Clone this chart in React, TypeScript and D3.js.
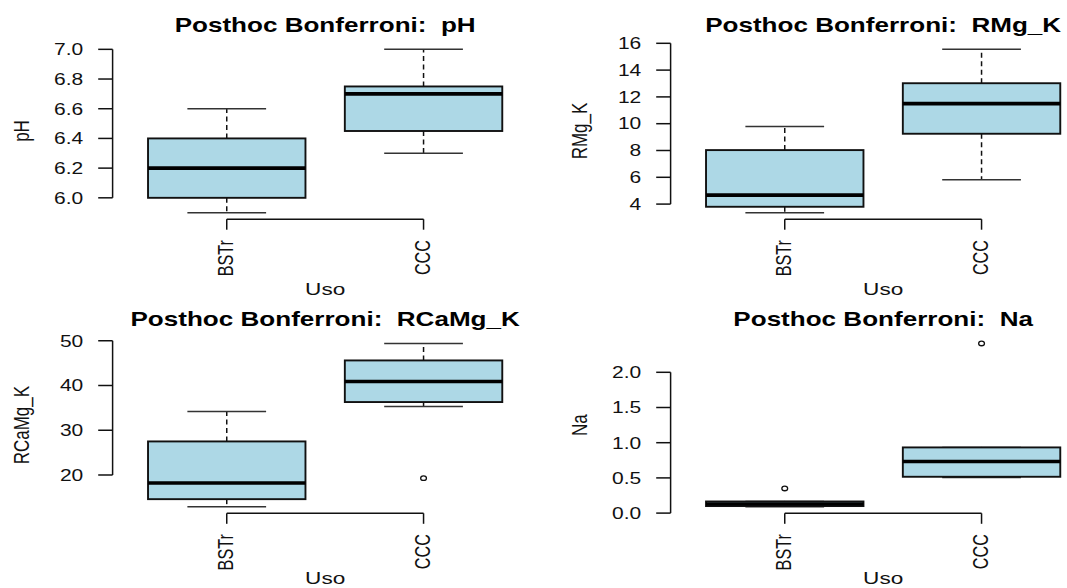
import React from "react";
import * as d3 from "d3";

// Groups on the x axis
const groups = ["BSTr", "CCC"];

// Five-number summaries per group: [lower whisker, Q1, median, Q3, upper whisker]
const phStats = [
  [5.9, 6.0, 6.2, 6.4, 6.6],
  [6.3, 6.45, 6.7, 6.75, 7.0],
];
const phOutliers: number[][] = [[], []];
const phTicks = [6.0, 6.2, 6.4, 6.6, 6.8, 7.0];

const rmgStats = [
  [3.36, 3.8, 4.67, 8.03, 9.8],
  [5.81, 9.25, 11.5, 13.02, 15.55],
];
const rmgOutliers: number[][] = [[], []];
const rmgTicks = [4, 6, 8, 10, 12, 14, 16];

const rcaStats = [
  [12.9, 14.6, 18.2, 27.5, 34.2],
  [35.3, 36.3, 40.9, 45.6, 49.4],
];
const rcaOutliers: number[][] = [[], [19.3]];
const rcaTicks = [20, 30, 40, 50];

const naStats = [
  [0.09, 0.1, 0.13, 0.165, 0.165],
  [0.506, 0.516, 0.734, 0.933, 0.933],
];
const naOutliers: number[][] = [[0.35], [2.41]];
const naTicks = [0.0, 0.5, 1.0, 1.5, 2.0];

const W = 1067;
const H = 588;
const FONT = "'Liberation Sans', Arial, Helvetica, sans-serif";
const SX = 1.33; // horizontal stretch of the lettering
const FILL = "#ADD8E6";

const COL_W = 558;
const ROW_H = 294.1;
const PLOT_LEFT = 112.6;
const PLOT_W = 425.1;
const PLOT_TOP = 42.8;
const PLOT_H = 176.4;

type Panel = {
  varName: string;
  stats: number[][];
  outliers: number[][];
  ticks: number[];
  fmt: string;
  col: number;
  row: number;
};

const panels: Panel[] = [
  { varName: "pH", stats: phStats, outliers: phOutliers, ticks: phTicks, fmt: ".1f", col: 0, row: 0 },
  { varName: "RMg_K", stats: rmgStats, outliers: rmgOutliers, ticks: rmgTicks, fmt: "d", col: 1, row: 0 },
  { varName: "RCaMg_K", stats: rcaStats, outliers: rcaOutliers, ticks: rcaTicks, fmt: "d", col: 0, row: 1 },
  { varName: "Na", stats: naStats, outliers: naOutliers, ticks: naTicks, fmt: ".1f", col: 1, row: 1 },
];

function BoxPanel({ p }: { p: Panel }) {
  const left = p.col * COL_W + PLOT_LEFT;
  const right = left + PLOT_W;
  const top = p.row * ROW_H + PLOT_TOP;
  const bottom = top + PLOT_H;

  // x: groups at 1 and 2, range 0.5..2.5 padded by 4%
  const x = d3.scaleLinear().domain([0.42, 2.58]).range([left, right]);
  const all = p.stats.flat().concat(p.outliers.flat());
  const [lo, hi] = d3.extent(all) as [number, number];
  const pad = (hi - lo) * 0.04;
  const y = d3.scaleLinear().domain([lo - pad, hi + pad]).range([bottom, top]);
  const fmt = d3.format(p.fmt);

  const boxHalf = x(1.4) - x(1);
  const capHalf = boxHalf / 2;
  const cx = (left + right) / 2;
  const cy = (top + bottom) / 2;
  const xTitleY = Math.min(bottom + 75.8, H - 4.5);

  return (
    <g>
      {/* title */}
      <text
        transform={`translate(${cx},${top - 11.1}) scale(${SX},1)`}
        textAnchor="middle"
        fontFamily={FONT}
        fontWeight="bold"
        fontSize={19.6}
        fill="#000"
        style={{ whiteSpace: "pre" }}
      >
        {`Posthoc Bonferroni:  ${p.varName}`}
      </text>

      {/* boxes */}
      {p.stats.map((s, i) => {
        const c = x(i + 1);
        const [wl, q1, med, q3, wh] = s;
        return (
          <g key={groups[i]}>
            <line x1={c} x2={c} y1={y(q3)} y2={y(wh)} stroke="#111" strokeWidth={1.5} strokeDasharray="5,3.5" />
            <line x1={c} x2={c} y1={y(q1)} y2={y(wl)} stroke="#111" strokeWidth={1.5} strokeDasharray="5,3.5" />
            <line x1={c - capHalf} x2={c + capHalf} y1={y(wh)} y2={y(wh)} stroke="#333" strokeWidth={1.5} />
            <line x1={c - capHalf} x2={c + capHalf} y1={y(wl)} y2={y(wl)} stroke="#333" strokeWidth={1.5} />
            <rect
              x={c - boxHalf}
              y={y(q3)}
              width={boxHalf * 2}
              height={y(q1) - y(q3)}
              fill={FILL}
              stroke="#111"
              strokeWidth={1.9}
            />
            <line x1={c - boxHalf} x2={c + boxHalf} y1={y(med)} y2={y(med)} stroke="#000" strokeWidth={3.6} />
            {p.outliers[i].map((v, j) => (
              <ellipse key={j} cx={c} cy={y(v)} rx={2.9} ry={2.3} fill="none" stroke="#111" strokeWidth={1.3} />
            ))}
          </g>
        );
      })}

      {/* y axis */}
      <line
        x1={left}
        x2={left}
        y1={y(p.ticks[0])}
        y2={y(p.ticks[p.ticks.length - 1])}
        stroke="#111"
        strokeWidth={1.5}
      />
      {p.ticks.map((t) => (
        <g key={t}>
          <line x1={left - 14.4} x2={left} y1={y(t)} y2={y(t)} stroke="#111" strokeWidth={1.5} />
          <text
            transform={`translate(${left - 29.3},${y(t) + 5.8}) scale(${SX},1)`}
            textAnchor="end"
            fontFamily={FONT}
            fontSize={15.8}
            fill="#111"
          >
            {fmt(t)}
          </text>
        </g>
      ))}

      {/* x axis */}
      <line x1={x(1)} x2={x(2)} y1={bottom} y2={bottom} stroke="#111" strokeWidth={1.5} />
      {groups.map((g, i) => (
        <g key={g}>
          <line x1={x(i + 1)} x2={x(i + 1)} y1={bottom} y2={bottom + 10.5} stroke="#111" strokeWidth={1.5} />
          <text
            transform={`translate(${x(i + 1) + 6},${bottom + 20.8}) scale(${SX},1) rotate(-90)`}
            textAnchor="end"
            fontFamily={FONT}
            fontSize={16.2}
            fill="#111"
          >
            {g}
          </text>
        </g>
      ))}

      {/* axis titles */}
      <text
        transform={`translate(${cx},${xTitleY}) scale(${SX},1)`}
        textAnchor="middle"
        fontFamily={FONT}
        fontSize={17}
        fill="#111"
      >
        Uso
      </text>
      <text
        transform={`translate(${left - 83.8},${cy}) scale(${SX},1) rotate(-90)`}
        textAnchor="middle"
        fontFamily={FONT}
        fontSize={17}
        fill="#111"
      >
        {p.varName}
      </text>
    </g>
  );
}

export default function App() {
  return (
    <svg
      width={W}
      height={H}
      viewBox={`0 0 ${W} ${H}`}
      style={{ position: "absolute", left: 0, top: 0, display: "block", background: "#fff" }}
    >
      <rect x={0} y={0} width={W} height={H} fill="#fff" />
      {panels.map((p) => (
        <BoxPanel key={p.varName} p={p} />
      ))}
    </svg>
  );
}
